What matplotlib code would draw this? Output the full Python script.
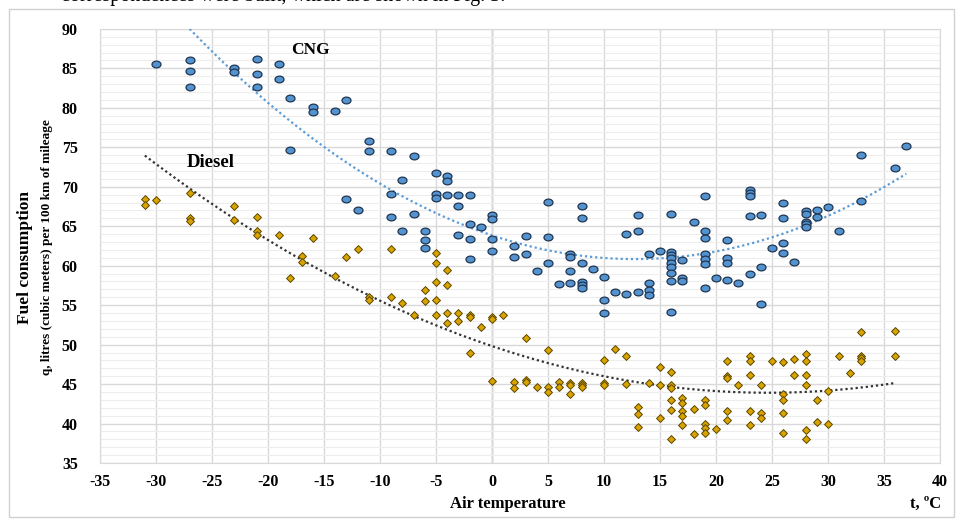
import matplotlib
matplotlib.use("Agg")
import matplotlib.pyplot as plt
import numpy as np
from matplotlib.patches import Rectangle

# CNG points: air temperature (C) and consumption (m3 / 100 km)
cng_t = [-30, -27, -27, -27, -23, -23, -21, -21, -21, -19, -19, -18, -18,
         -16, -16, -14, -13, -13, -12, -11, -11, -9, -9, -9, -8, -8, -7, -7,
         -6, -6, -6, -5, -5, -5, -4, -4, -4, -3, -3, -3, -2, -2, -2, -2, -1,
         0, 0, 0, 0, 2, 2, 3, 3, 4, 5, 5, 5, 6, 7, 7, 7, 7,
         8, 8, 8, 8, 8, 8, 9, 10, 10, 10, 11, 12, 12, 13, 13, 13,
         14, 14, 14, 14, 15, 16, 16, 16, 16, 16, 16, 16, 16, 16,
         17, 17, 17, 18, 19, 19, 19, 19, 19, 19, 19, 20, 21, 21, 21, 21, 22,
         23, 23, 23, 23, 23, 24, 24, 24, 25, 26, 26, 26, 26, 27,
         28, 28, 28, 28, 28, 29, 29, 30, 31, 33, 33, 36, 37]
cng_q = [85.5, 86.0, 84.7, 82.7, 85.1, 84.6, 86.2, 84.3, 82.6, 85.6, 83.6, 81.3, 74.7,
         80.1, 79.5, 79.6, 81.0, 68.5, 67.1, 75.8, 74.5, 74.5, 69.1, 66.2, 70.9, 64.4, 73.9, 66.6,
         64.4, 63.3, 62.3, 71.8, 69.1, 68.6, 71.4, 70.7, 69.0, 69.0, 67.6, 63.9, 69.0, 65.3, 63.4, 60.9, 64.9,
         66.4, 65.9, 63.4, 61.9, 62.5, 61.1, 63.7, 61.5, 59.3, 68.1, 63.6, 60.3, 57.7, 61.5, 61.1, 59.3, 57.8,
         67.6, 66.1, 60.3, 57.9, 57.6, 57.2, 59.6, 58.6, 55.7, 54.0, 56.7, 64.0, 56.4, 66.4, 64.4, 56.7,
         61.5, 57.8, 56.9, 56.3, 61.9, 66.6, 61.7, 61.4, 61.0, 60.3, 59.8, 59.1, 58.1, 54.1,
         60.7, 58.4, 58.1, 65.5, 68.8, 64.4, 63.5, 61.5, 60.9, 60.2, 57.2, 58.4, 63.3, 61.0, 60.3, 58.2, 57.8,
         69.6, 69.2, 68.8, 66.3, 59.0, 66.4, 59.8, 55.2, 62.3, 68.0, 66.1, 62.9, 61.6, 60.5,
         66.9, 66.6, 65.5, 65.3, 64.9, 67.1, 66.2, 67.4, 64.4, 74.0, 68.2, 72.4, 75.2]

# Diesel points: air temperature (C) and consumption (l / 100 km)
diesel_t = [-31, -31, -30, -27, -27, -27, -23, -23, -21, -21, -21, -19, -18, -17, -17,
            -16, -14, -13, -12, -11, -11, -9, -9, -8, -7, -6, -6, -5, -5, -5, -5, -5,
            -4, -4, -4, -4, -3, -3, -2, -2, -2, -1, 0, 0, 0, 1, 2, 2, 3, 3, 3, 4,
            5, 5, 5, 6, 6, 7, 7, 7, 8, 8, 8, 10, 10, 10, 11, 12, 12, 13, 13, 13, 14,
            15, 15, 15, 16, 16, 16, 16, 16, 16, 17, 17, 17, 17, 17, 18, 18,
            19, 19, 19, 19, 19, 20, 21, 21, 21, 21, 21, 22, 23, 23, 23, 23, 23,
            24, 24, 24, 25, 26, 26, 26, 26, 26, 27, 27, 28, 28, 28, 28, 28, 28,
            29, 29, 30, 30, 31, 32, 33, 33, 33, 33, 36, 36]
diesel_q = [68.5, 67.7, 68.3, 69.2, 66.1, 65.7, 67.6, 65.8, 66.2, 64.4, 63.9, 63.9, 58.4, 61.2, 60.5,
            63.5, 58.7, 61.1, 62.1, 56.0, 55.7, 62.1, 56.0, 55.3, 53.8, 56.9, 55.5, 61.6, 60.3, 57.9, 55.7, 53.8,
            59.5, 57.5, 54.0, 52.7, 54.0, 53.0, 53.8, 53.5, 48.9, 52.2, 53.5, 53.3, 45.4, 53.8, 45.3, 44.5, 50.8, 45.5, 45.3, 44.6,
            49.3, 44.6, 44.0, 45.3, 44.6, 45.1, 44.9, 43.7, 45.1, 44.9, 44.6, 48.1, 45.1, 44.9, 49.4, 48.6, 45.0, 42.1, 41.2, 39.6, 45.1,
            47.2, 44.9, 40.7, 46.5, 44.9, 44.5, 43.0, 41.7, 38.0, 43.2, 42.6, 41.6, 41.0, 39.8, 41.8, 38.7,
            43.0, 42.4, 39.9, 39.4, 38.8, 39.3, 47.9, 46.0, 45.8, 41.6, 40.5, 44.9, 48.6, 47.9, 46.2, 41.6, 39.8,
            44.9, 41.3, 40.7, 47.9, 47.8, 43.7, 43.0, 41.3, 38.8, 48.2, 46.2, 48.8, 47.9, 46.2, 44.9, 39.2, 38.0,
            43.0, 40.2, 44.1, 39.9, 48.6, 46.4, 51.6, 48.6, 48.3, 47.9, 51.7, 48.6]

x_ticks = list(range(-35, 41, 5))
y_ticks = list(range(35, 91, 5))

serif = "Liberation Serif"
plt.rcParams["font.family"] = serif
plt.rcParams["axes.unicode_minus"] = False

fig = plt.figure(figsize=(9.62, 5.23), dpi=100)
ax = fig.add_axes([0.104, 0.1147, 0.873, 0.83])

# flattened circle marker like the stretched original
th = np.linspace(0, 2 * np.pi, 40)
ellipse = list(zip(np.cos(th) * 1.0, np.sin(th) * 0.75))

ax.scatter(cng_t, cng_q, marker=ellipse, s=42, facecolor="#5393D0",
           edgecolor="#1F3550", linewidth=0.9, zorder=4)
ax.scatter(diesel_t, diesel_q, marker="D", s=16, facecolor="#D9A400",
           edgecolor="#5C4700", linewidth=0.7, zorder=4)

# second order trend lines
c_cng = np.polyfit(cng_t, cng_q, 2)
c_dsl = np.polyfit(diesel_t, diesel_q, 2)
xc = np.linspace(min(cng_t), max(cng_t), 200)
xd = np.linspace(min(diesel_t), max(diesel_t), 200)
ax.plot(xc, np.polyval(c_cng, xc), color="#5B9BD5", ls=(0, (1, 1.3)), lw=1.6, zorder=3)
ax.plot(xd, np.polyval(c_dsl, xd), color="#333333", ls=(0, (1, 1.3)), lw=1.6, zorder=3)

ax.set_xlim(-35, 40)
ax.set_ylim(35, 90)
ax.set_xticks(x_ticks)
ax.set_yticks(y_ticks)
ax.set_yticks(np.arange(35, 90, 1), minor=True)
ax.grid(which="major", color="#d9d9d9", lw=1.0, zorder=0)
ax.grid(which="minor", axis="y", color="#ededed", lw=0.8, zorder=0)
ax.axvline(0, color="#a6a6a6", lw=1.0, zorder=1)
ax.tick_params(which="both", length=0)
ax.tick_params(axis="x", pad=8)
ax.tick_params(axis="y", pad=16)
for sp in ax.spines.values():
    sp.set_color("#d9d9d9")
for lab in ax.get_xticklabels() + ax.get_yticklabels():
    lab.set_fontweight("bold")
    lab.set_fontsize(11.5)

ax.text(-17.9, 87.3, "CNG", fontsize=12.5, fontweight="bold", va="center")
ax.text(-27.3, 73.1, "Diesel", fontsize=13.5, fontweight="bold", va="center")

fig.text(0.528, 0.036, "Air temperature", ha="center", va="center",
         fontsize=12, fontweight="bold")
fig.text(0.962, 0.036, "t, ºC", ha="center", va="center", fontsize=12, fontweight="bold")
fig.text(0.026, 0.507, "Fuel consumption", rotation=90, ha="center", va="center",
         fontsize=12.5, fontweight="bold")
fig.text(0.049, 0.528, "q, litres (cubic meters) per 100 km of mileage", rotation=90,
         ha="center", va="center", fontsize=9.5, fontweight="bold")

# cut-off line of the surrounding page text, clipped by the image edge as in the source
fig.text(0.525, 1.006, "correspondences were built, which are shown in Fig. 3.",
         ha="right", va="center", fontsize=14.5)

fig.patches.append(Rectangle((0.009, 0.012), 0.983, 0.971, transform=fig.transFigure,
                             fill=False, edgecolor="#d0d0d0", lw=1.0))

fig.savefig("out.png", dpi=100)
